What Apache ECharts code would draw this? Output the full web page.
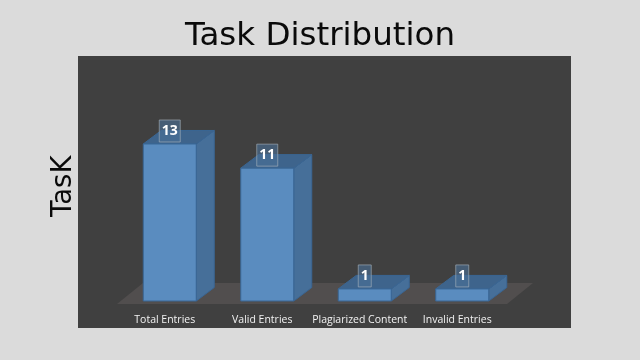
<!DOCTYPE html>
<html><head><meta charset="utf-8">
<style>html,body{margin:0;padding:0;background:#dbdbdb}#c{width:640px;height:360px}</style>
<script src="https://cdn.jsdelivr.net/npm/echarts@6/dist/echarts.min.js"></script>
</head><body><div id="c"></div>
<script>
var titleText = 'Task Distribution';
var yName = 'TasK';
var categories = ['Total Entries','Valid Entries','Plagiarized Content','Invalid Entries'];
var values = [13,11,1,1];

var chart = echarts.init(document.getElementById('c'), null, {renderer:'canvas'});
var DX = 18, DY = -13.5, BW = 53;

function floorItem(params){
  var g = params.coordSys, x0 = g.x - 4, x1 = g.x + g.width - 4, y0 = g.y + g.height + 3;
  return {type:'polygon', silent:true,
    shape:{points:[[x0,y0],[x1,y0],[x1+26,y0-21],[x0+26,y0-21]]},
    style:{fill:'#514e4e'}};
}
function barItem(params, api){
  var c = api.coord([api.value(0), api.value(1)]);
  var base = api.coord([api.value(0), 0]);
  var l = c[0] - BW/2, r = c[0] + BW/2, t = c[1], b = base[1];
  var edge = '#3a6694';
  var val = String(api.value(1));
  return {type:'group', children:[
    {type:'polygon', shape:{points:[[r,t],[r+DX,t+DY],[r+DX,b+DY],[r,b]]}, style:{fill:'#466f99',stroke:edge,lineWidth:1}},
    {type:'polygon', shape:{points:[[l,t],[r,t],[r+DX,t+DY],[l+DX,t+DY]]}, style:{fill:'#3e648c',stroke:edge,lineWidth:1}},
    {type:'rect', shape:{x:l,y:t,width:BW,height:b-t}, style:{fill:'#5a8cbf',stroke:edge,lineWidth:1}},
    {type:'rect', shape:{x:c[0]-(val.length>1?10.5:6.5), y:t-24, width:(val.length>1?21:13), height:22},
      style:{fill:'rgba(75,112,150,0.62)',stroke:'rgba(170,180,190,0.6)',lineWidth:1}},
    {type:'text', style:{text:val, x:c[0], y:t-13, align:'center', verticalAlign:'middle',
      fill:'#ffffff', font:'bold 14px "Open Sans"'}}
  ]};
}

chart.setOption({
  animation:false,
  backgroundColor:'#dbdbdb',
  title:{text:titleText, left:'center', top:15, textStyle:{fontFamily:'DejaVu Sans',fontWeight:400,fontSize:32.5,color:'#0a0a0a'}},
  graphic:[{type:'rect', z:-10, silent:true, shape:{x:78,y:56,width:493,height:272}, style:{fill:'#404040'}}],
  grid:{left:121,right:129,top:71.5,bottom:59},
  xAxis:{type:'category',data:categories,
    axisLine:{show:false},axisTick:{show:false},
    axisLabel:{color:'#f2f2f2',fontFamily:'Open Sans',fontSize:10.5,margin:14,interval:0,padding:[0,10,0,0]}},
  yAxis:{type:'value',min:0,max:19,name:yName,nameLocation:'middle',nameGap:43,nameRotate:90,
    nameTextStyle:{fontFamily:'DejaVu Sans',fontSize:27.5,color:'#0a0a0a'},
    axisLine:{show:false},axisTick:{show:false},axisLabel:{show:false},splitLine:{show:false}},
  series:[
    {type:'custom',name:'floor',data:[[0,0]],renderItem:floorItem,silent:true,z:1,encode:{x:0,y:1}},
    {type:'custom',name:'Task',data:values.map(function(v,i){return [i,v];}),renderItem:barItem,z:2,encode:{x:0,y:1}}
  ]
});
</script></body></html>
